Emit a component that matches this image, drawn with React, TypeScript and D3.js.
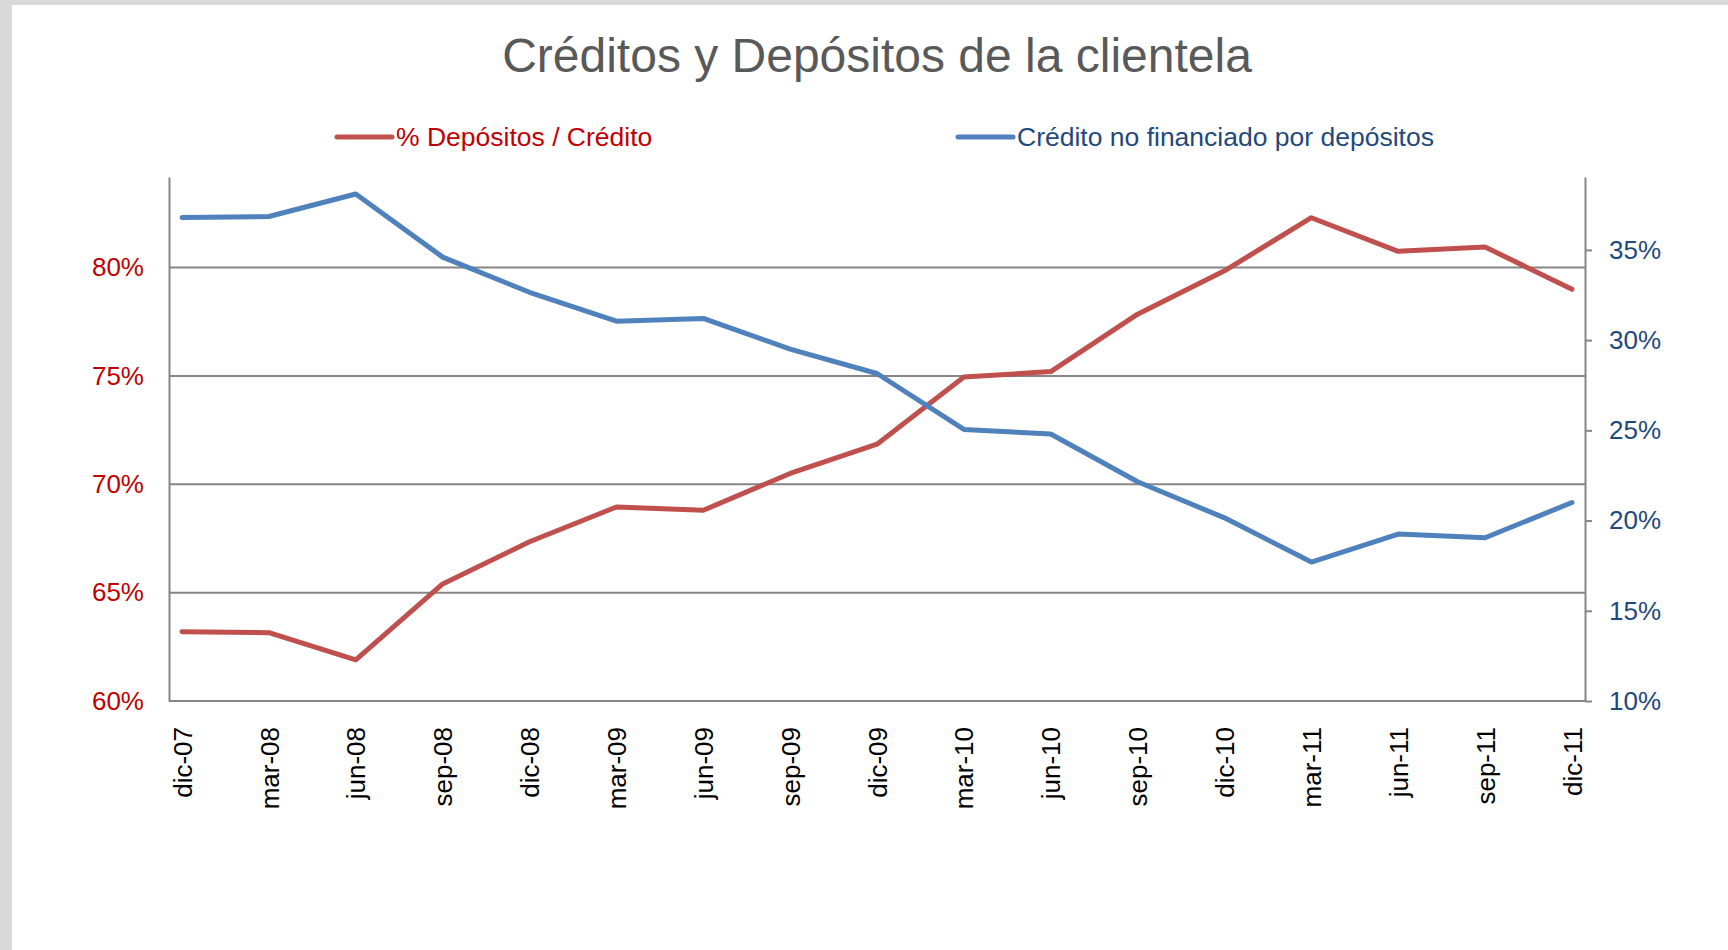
import React, { useEffect, useRef } from 'react';
import * as d3 from 'd3';

// quarters on the x axis
const periods = [
    'dic-07', 'mar-08', 'jun-08', 'sep-08',
    'dic-08', 'mar-09', 'jun-09', 'sep-09',
    'dic-09', 'mar-10', 'jun-10', 'sep-10',
    'dic-10', 'mar-11', 'jun-11', 'sep-11',
    'dic-11',
];

// % Depósitos / Crédito (left axis)
const depositosCredito = [
    0.632, 0.6315, 0.619, 0.654,
    0.6735, 0.6895, 0.688, 0.705,
    0.7185, 0.7495, 0.752, 0.7785,
    0.7985, 0.823, 0.8075, 0.8095,
    0.790,
];

// Crédito no financiado por depósitos (right axis)
const creditoNoFinanciado = [
    0.368, 0.3685, 0.381, 0.346,
    0.3265, 0.3105, 0.312, 0.295,
    0.2815, 0.2505, 0.248, 0.2215,
    0.2015, 0.177, 0.1925, 0.1905,
    0.210,
];

const leftTicks = [0.60, 0.65, 0.70, 0.75, 0.80];
const rightTicks = [0.10, 0.15, 0.20, 0.25, 0.30, 0.35];

const seriesNames = ['% Depósitos / Crédito', 'Crédito no financiado por depósitos'];
const titleText = 'Créditos y Depósitos de la clientela';

const width = 1728;
const height = 950;
const margins = { top: 177, right: 143, bottom: 249, left: 169 };
const font = '"Liberation Sans", Arial, sans-serif';

const colors = {
    red: '#C0504D',
    blue: '#4F81BD',
    redText: '#C00000',
    blueText: '#1F497D',
    grid: '#868686',
    title: '#595959',
};

export default function App() {
    const svgRef = useRef<SVGSVGElement>(null);

    useEffect(() => {
        const svg = d3.select(svgRef.current);
        svg.selectAll('*').remove();

        const plotW = width - margins.left - margins.right;
        const plotH = height - margins.top - margins.bottom;

        // background frame
        svg.append('rect').attr('width', width).attr('height', height).attr('fill', '#D9D9D9');
        svg.append('rect').attr('x', 12).attr('y', 5)
            .attr('width', width - 12).attr('height', height - 5).attr('fill', '#fff');

        // title
        svg.append('text')
            .attr('x', margins.left + plotW / 2)
            .attr('y', 72)
            .attr('text-anchor', 'middle')
            .attr('font-family', font)
            .attr('font-size', 48)
            .attr('fill', colors.title)
            .text(titleText);

        // legend
        const legend = [
            { name: seriesNames[0], x: 337, stroke: colors.red, fill: colors.redText },
            { name: seriesNames[1], x: 958, stroke: colors.blue, fill: colors.blueText },
        ];
        const lg = svg.append('g').attr('transform', 'translate(0,137)');
        legend.forEach(d => {
            lg.append('line')
                .attr('x1', d.x).attr('x2', d.x + 55)
                .attr('stroke', d.stroke).attr('stroke-width', 5)
                .attr('stroke-linecap', 'round');
            lg.append('text')
                .attr('x', d.x + 59).attr('y', 9)
                .attr('font-family', font).attr('font-size', 26.5)
                .attr('fill', d.fill)
                .text(d.name);
        });

        // scales
        const x = d3.scalePoint<string>().domain(periods).range([0, plotW]).padding(0.15);
        const yLeft = d3.scaleLinear().domain([0.60, 0.8418]).range([plotH, 0]);
        const yRight = d3.scaleLinear().domain([0.10, 0.3904]).range([plotH, 0]);

        const g = svg.append('g').attr('transform', `translate(${margins.left},${margins.top})`);

        // gridlines
        g.append('g').selectAll('line')
            .data(leftTicks.slice(1))
            .enter().append('line')
            .attr('x1', 0).attr('x2', plotW)
            .attr('y1', d => yLeft(d)).attr('y2', d => yLeft(d))
            .attr('stroke', colors.grid).attr('stroke-width', 2);

        // left axis
        const leftAxis = g.append('g')
            .call(d3.axisLeft(yLeft).tickValues(leftTicks).tickSize(0).tickPadding(25)
                .tickFormat(d3.format('.0%')));
        leftAxis.select('.domain').attr('stroke', colors.grid).attr('stroke-width', 2);
        leftAxis.selectAll('text')
            .attr('font-family', font).attr('font-size', 26).attr('fill', colors.redText);

        // right axis
        const rightAxis = g.append('g')
            .attr('transform', `translate(${plotW},0)`)
            .call(d3.axisRight(yRight).tickValues(rightTicks).tickSizeInner(7).tickSizeOuter(0)
                .tickPadding(17).tickFormat(d3.format('.0%')));
        rightAxis.select('.domain').attr('stroke', colors.grid).attr('stroke-width', 2);
        rightAxis.selectAll('.tick line').attr('stroke', colors.grid).attr('stroke-width', 2);
        rightAxis.selectAll('text')
            .attr('font-family', font).attr('font-size', 26).attr('fill', colors.blueText);

        // bottom axis
        const bottomAxis = g.append('g')
            .attr('transform', `translate(0,${plotH})`)
            .call(d3.axisBottom(x).tickSize(0).tickSizeOuter(0));
        bottomAxis.select('.domain')
            .attr('d', `M0,0H${plotW}`)
            .attr('stroke', colors.grid).attr('stroke-width', 2);
        bottomAxis.selectAll('.tick text')
            .attr('font-family', font).attr('font-size', 26).attr('fill', '#000')
            .attr('text-anchor', 'end')
            .attr('transform', 'translate(0,26) rotate(-90)')
            .attr('x', 0).attr('y', 0).attr('dy', '0.35em');

        // series
        const lines = [
            { values: depositosCredito, y: yLeft, stroke: colors.red },
            { values: creditoNoFinanciado, y: yRight, stroke: colors.blue },
        ];
        lines.forEach(s => {
            const line = d3.line<number>()
                .x((_, i) => x(periods[i]) as number)
                .y(d => s.y(d));
            g.append('path')
                .datum(s.values)
                .attr('d', line)
                .attr('fill', 'none')
                .attr('stroke', s.stroke)
                .attr('stroke-width', 5)
                .attr('stroke-linejoin', 'round')
                .attr('stroke-linecap', 'round');
        });
    }, []);

    return (
        <div style={{ position: 'fixed', left: 0, top: 0 }}>
            <svg ref={svgRef} width={width} height={height} style={{ display: 'block' }} />
        </div>
    );
}
